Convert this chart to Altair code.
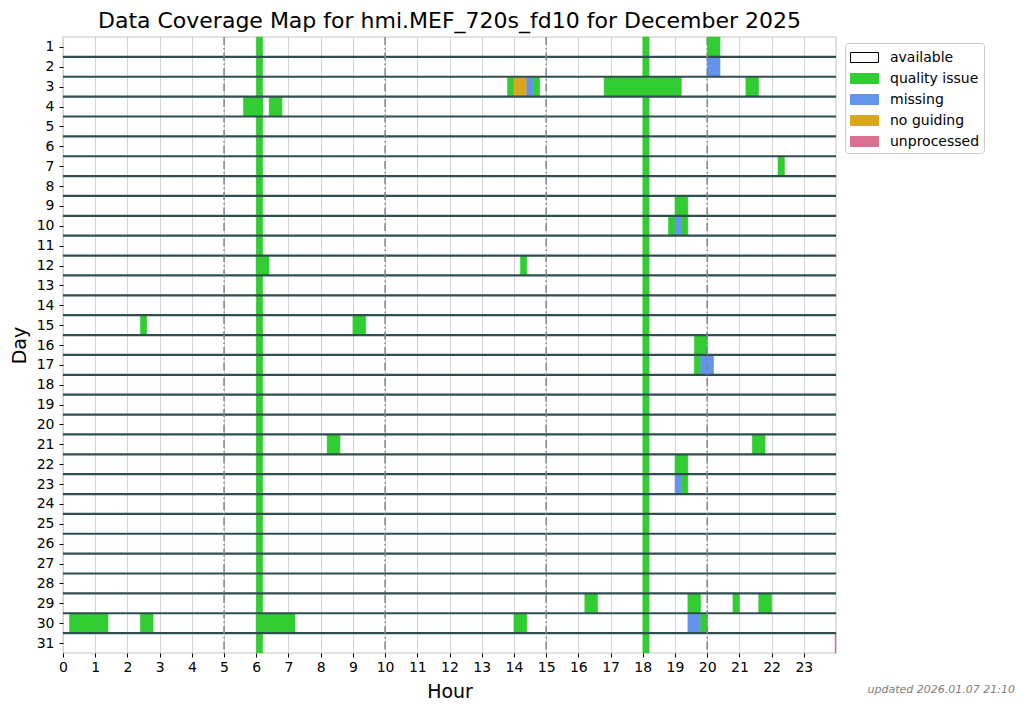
import altair as alt
import pandas as pd

TITLE = "Data Coverage Map for hmi.MEF_720s_fd10 for December 2025"
UPDATED = "updated 2026.01.07 21:10"

STATUSES = ["available", "quality issue", "missing", "no guiding", "unprocessed"]
FILL_COLORS = ["#ffffff", "#32CD32", "#6495ED", "#DAA520", "#DB7093"]
EDGE_COLORS = ["#000000", "#32CD32", "#6495ED", "#DAA520", "#DB7093"]

DAYS = list(range(1, 32))
HOUR_TICKS = list(range(0, 24))
DASHED_HOURS = [5, 10, 15, 20]

# recurring quality-issue slots seen on every day of the month
RECURRING_STARTS = [6.0, 18.0]
RECURRING_ENDS = [6.2, 18.2]

# individual segments
seg_day = [1, 2,
           3, 3, 3, 3, 3, 3,
           4, 4,
           7,
           9,
           10, 10, 10,
           12, 12,
           15, 15,
           16,
           17, 17,
           21, 21,
           22,
           23, 23,
           29, 29, 29, 29,
           30, 30, 30, 30, 30, 30,
           31]
seg_start = [20.0, 20.0,
             13.8, 14.0, 14.4, 14.6, 16.8, 21.2,
             5.6, 6.4,
             22.2,
             19.0,
             18.8, 19.0, 19.2,
             6.0, 14.2,
             2.4, 9.0,
             19.6,
             19.6, 19.8,
             8.2, 21.4,
             19.0,
             19.0, 19.2,
             16.2, 19.4, 20.8, 21.6,
             0.2, 2.4, 6.0, 14.0, 19.4, 19.8,
             23.97]
seg_end = [20.4, 20.4,
           14.0, 14.4, 14.6, 14.8, 19.2, 21.6,
           6.2, 6.8,
           22.4,
           19.4,
           19.0, 19.2, 19.4,
           6.4, 14.4,
           2.6, 9.4,
           20.0,
           19.8, 20.2,
           8.6, 21.8,
           19.4,
           19.2, 19.4,
           16.6, 19.8, 21.0, 22.0,
           1.4, 2.8, 7.2, 14.4, 19.8, 20.0,
           24.0]
seg_status = ["quality issue", "missing",
              "quality issue", "no guiding", "missing", "quality issue", "quality issue", "quality issue",
              "quality issue", "quality issue",
              "quality issue",
              "quality issue",
              "quality issue", "missing", "quality issue",
              "quality issue", "quality issue",
              "quality issue", "quality issue",
              "quality issue",
              "quality issue", "missing",
              "quality issue", "quality issue",
              "quality issue",
              "missing", "quality issue",
              "quality issue", "quality issue", "quality issue", "quality issue",
              "quality issue", "quality issue", "quality issue", "quality issue", "missing", "quality issue",
              "unprocessed"]

rows = []
for d in DAYS:
    for s, e in zip(RECURRING_STARTS, RECURRING_ENDS):
        rows.append({"day": d, "start": s, "end": e, "status": "quality issue"})
for d, s, e, st in zip(seg_day, seg_start, seg_end, seg_status):
    rows.append({"day": d, "start": s, "end": e, "status": st})
segs = pd.DataFrame(rows)
segs["top"] = segs["day"] - 0.5
segs["bottom"] = segs["day"] + 0.5

W, H = 773, 616
FONT = "DejaVu Sans"

xscale = alt.Scale(domain=[0, 24], nice=False, zero=False)
yscale = alt.Scale(domain=[0.5, 31.5], reverse=True, nice=False, zero=False)

x_axis = alt.Axis(values=HOUR_TICKS, title="Hour", grid=True, gridColor="#d3d3d3",
                  gridWidth=1, domain=False, tickColor="black", tickSize=4,
                  labelPadding=3, titlePadding=8, labelFlush=False, labelOverlap=False)
y_axis = alt.Axis(values=DAYS, title="Day", grid=False, domain=False,
                  tickColor="black", tickSize=4, labelPadding=5, titlePadding=7,
                  labelOverlap=False)

legend = alt.Legend(
    title=None, orient="none", legendX=782, legendY=6,
    symbolType="M-1.4,-0.5L1.4,-0.5L1.4,0.5L-1.4,0.5Z", symbolSize=400,
    symbolOffset=5, symbolStrokeWidth=1, labelFont=FONT, labelFontSize=14, labelColor="black",
    strokeColor="#cccccc", fillColor="white", padding=4, cornerRadius=3,
    rowPadding=3, labelOffset=15, values=STATUSES,
)

bars = alt.Chart(segs).mark_rect(strokeWidth=0.5).encode(
    x=alt.X("start:Q", scale=xscale, axis=x_axis),
    x2="end:Q",
    y=alt.Y("top:Q", scale=yscale, axis=y_axis),
    y2="bottom:Q",
    fill=alt.Fill("status:N", scale=alt.Scale(domain=STATUSES, range=FILL_COLORS), legend=legend),
    stroke=alt.Stroke("status:N", scale=alt.Scale(domain=STATUSES, range=EDGE_COLORS), legend=legend),
)

sep = pd.DataFrame({"y": [d + 0.5 for d in DAYS[:-1]]})
hlines = alt.Chart(sep).mark_rule(color="#2F4F4F", strokeWidth=2.2).encode(
    y=alt.Y("y:Q", scale=yscale, axis=y_axis)
)

vl = pd.DataFrame({"x": DASHED_HOURS})
vlines = alt.Chart(vl).mark_rule(color="#7b878c", strokeWidth=1.5, strokeDash=[8, 3, 1.5, 3]).encode(
    x=alt.X("x:Q", scale=xscale, axis=x_axis)
)

note = alt.Chart(pd.DataFrame({"t": [UPDATED]})).mark_text(
    align="right", baseline="middle", fontStyle="italic", fontSize=11, font=FONT, color="#808080"
).encode(text="t:N", x=alt.value(952), y=alt.value(653))

chart = alt.layer(bars, hlines, vlines, note).properties(
    width=W, height=H,
    title=alt.TitleParams(TITLE, fontSize=22, font=FONT, fontWeight="normal", color="black",
                          anchor="middle", offset=3),
    autosize=alt.AutoSizeParams(type="none"),
    padding={"left": 55, "top": 29, "right": 184, "bottom": 48},
).configure_view(stroke="#d9d9d9", strokeWidth=1.5).configure_axis(
    labelFont=FONT, labelFontSize=14, labelColor="black", titleFont=FONT, titleFontSize=19,
    titleFontWeight="normal", titleColor="black", labelOverlap=False
)

chart.save("out.html", embed_options={"renderer": "svg", "actions": False})
